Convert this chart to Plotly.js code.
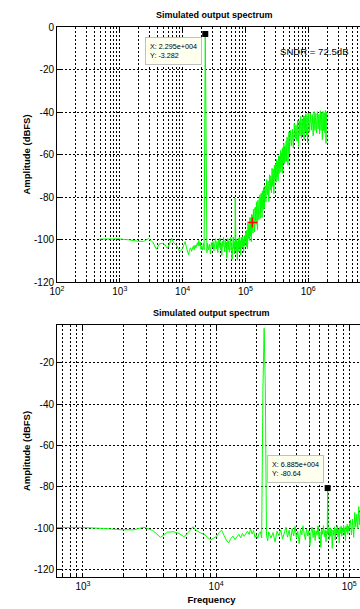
<!DOCTYPE html>
<html><head><meta charset="utf-8">
<script src="https://cdn.plot.ly/plotly-3.0.1.min.js"></script>
<style>html,body{margin:0;padding:0;overflow:hidden;background:#fff;width:360px;height:609px}#plot{width:375px;height:609px}</style>
</head><body><div id="plot"></div>
<script>
// ---- data ----
// in-band FFT bins (Hz) and amplitude (dBFS), incl. fundamental at 22.95 kHz and 3rd harmonic at 68.85 kHz
const inbandFreq = [478, 956, 1434, 1913, 2391, 2869, 3347, 3825, 4303, 4781, 5259, 5738, 6216, 6694, 7172, 7650, 8128, 8606, 9084, 9563,
  10041, 10519, 10997, 11475, 11953, 12431, 12909, 13388, 13866, 14344, 14822, 15300, 15778, 16256, 16734, 17213, 17691, 18169, 18647, 19125,
  19603, 20081, 20559, 21038, 21516, 21994, 22472, 22950, 23428, 23906, 24384,
  24863, 25819, 26775, 27731, 28688, 29644, 30600, 31556, 32513, 33469, 34425, 35381, 36338, 37294, 38250, 39206, 40163, 41119, 42075, 43031,
  43988, 44944, 45900, 46856, 47813, 48769, 49725, 50681, 51638, 52594, 53550, 54506, 55463, 56419, 57375, 58331, 59288, 60244, 61200, 62156,
  63113, 64069, 65025, 65981, 66938, 67894, 68372, 68850, 69328, 69806, 70763, 71719, 72675, 73631, 74588, 75544, 76500, 77456, 78413,
  79369, 80325, 81281, 82238, 83194, 84150, 85106, 86063, 87019, 87975, 88931, 89888, 90844, 91800, 92756, 93713, 94669, 95625, 96581, 97538,
  98494, 99450, 100406];
const inbandDb = [-99.8, -99.7, -100.2, -100.8, -100.9, -99.6, -101.2, -104.5, -102.0, -101.8, -102.6, -104.2, -102.0, -99.4, -101.3, -102.4, -103.0, -104.6, -105.8, -104.9,
  -104.2, -102.3, -101.0, -103.6, -105.9, -107.2, -105.0, -103.9, -105.6, -104.2, -103.0, -104.8, -102.6, -104.0, -102.8, -101.5, -103.1, -100.4, -102.9, -101.2,
  -104.6, -103.3, -105.0, -102.4, -101.8, -104.8, -33.0, -3.282, -32.5, -103.5, -106.2,
  -101.8, -104.9, -102.2, -106.8, -101.5, -103.7, -100.9, -105.3, -102.1, -99.6, -104.4, -101.0, -106.2, -100.3, -103.8, -99.2, -104.9, -101.6, -107.5, -100.8,
  -103.3, -98.9, -102.7, -105.8, -100.4, -103.9, -101.2, -108.6, -101.9, -99.5, -104.6, -100.7, -106.0, -101.3, -103.5, -99.0, -105.1, -101.8, -109.4, -100.6,
  -103.0, -98.8, -104.2, -100.9, -106.7, -101.4, -103.0, -80.64, -102.5, -100.2, -105.5, -99.8, -104.0, -100.6, -109.8, -101.0, -103.6, -99.4, -105.8,
  -100.1, -102.9, -98.9, -104.3, -100.5, -107.2, -99.7, -102.6, -99.0, -104.0, -100.2, -101.9, -98.6, -103.4, -99.8, -106.1, -99.1, -101.8, -98.2, -103.0,
  -99.0, -101.5, -97.8];
// out-of-band shaped noise (Hz, dBFS)
const shapedFreq = [102000, 104000, 106000, 108000, 110000, 112000, 114000, 116000, 118000, 120000, 122000, 124000, 126000, 128000, 130000, 132000, 134000, 136000, 138000, 140000,
  142000, 144000, 146000, 148000, 150000, 152000, 154000, 156000, 158000, 160000, 162000, 164000, 166000, 168000, 170000, 172000, 174000, 176000, 178000, 180000,
  182000, 184000, 186000, 188000, 190000, 192000, 194000, 196000, 198000, 200000,
  206000, 212000, 218000, 224000, 230000, 236000, 242000, 248000, 254000, 260000, 266000, 272000, 278000, 284000, 290000, 296000, 302000, 308000, 314000, 320000,
  326000, 332000, 338000, 344000, 350000, 356000, 362000, 368000, 374000, 380000, 386000, 392000, 398000, 404000, 410000, 416000, 422000, 428000, 434000, 440000,
  446000, 452000, 458000, 464000, 470000, 476000, 482000, 488000, 494000, 500000,
  520000, 540000, 560000, 580000, 600000, 620000, 640000, 660000, 680000, 700000, 720000, 740000, 760000, 780000, 800000, 820000, 840000, 860000, 880000, 900000,
  920000, 940000, 960000, 980000, 1000000,
  1040000, 1080000, 1120000, 1160000, 1200000, 1240000, 1280000, 1320000, 1360000, 1400000, 1440000, 1480000, 1520000, 1560000, 1600000, 1640000, 1680000, 1720000,
  1760000, 1800000, 1840000, 1880000, 1920000, 1960000];
const shapedDb = [-96.0, -103.3, -95.6, -104.5, -92.5, -99.5, -93.3, -100.5, -89.6, -98.5, -89.9, -101.1, -88.1, -95.2, -88.6, -97.0, -85.8, -94.3, -87.1, -96.5,
  -85.0, -91.3, -84.7, -93.0, -82.3, -90.8, -84.3, -95.6, -81.5, -90.1, -82.1, -90.6, -80.7, -87.5, -79.0, -90.0, -80.2, -87.2, -78.2, -85.2,
  -79.2, -89.6, -77.2, -85.1, -77.1, -86.0, -75.6, -84.7, -76.3, -85.4,
  -74.6, -82.4, -71.8, -78.9, -72.4, -82.2, -69.5, -76.8, -70.0, -78.0, -66.5, -75.0, -66.9, -78.4, -65.0, -71.6, -64.3, -73.0, -62.4, -70.4,
  -63.2, -72.4, -60.6, -69.1, -60.7, -66.7, -58.1, -68.4, -59.3, -65.8, -57.2, -68.8, -56.8, -63.4, -54.8, -64.3, -56.1, -63.3, -53.7, -60.2,
  -53.7, -63.3, -51.8, -60.0, -52.6, -65.0, -51.0, -59.1, -49.4, -59.6,
  -48.7, -55.9, -48.0, -57.0, -45.4, -52.6, -46.0, -53.6, -43.8, -56.1, -44.1, -51.3, -42.1, -52.4, -43.4, -50.7, -41.8, -53.1, -42.0, -49.3,
  -40.8, -50.8, -41.9, -54.6, -40.5,
  -49.6, -40.4, -48.6, -41.2, -51.2, -39.8, -48.7, -40.6, -49.8, -39.8, -47.9, -41.1, -50.4, -39.4, -48.7, -40.2, -53.0, -39.7,
  -48.8, -40.4, -49.9, -39.2, -54.8, -39.9];
// data tips, band-edge marker, texts
const tipFreq = [22950, 68850];
const tipDb = [-3.282, -80.64];
const tipLabels = ['X: 2.295e+004<br>Y: -3.282', 'X: 6.885e+004<br>Y: -80.64'];
const edgeFreq = [129000];
const edgeDb = [-92];
const sndrLabel = 'SNDR = 72.5dB';
const plotTitle = 'Simulated output spectrum';
const yLabel = 'Amplitude (dBFS)';
const xLabel = 'Frequency';
const decadeTicks = [100, 1000, 10000, 100000, 1000000, 10000000];
const decadeLabels = ['10<sup>2</sup>', '10<sup>3</sup>', '10<sup>4</sup>', '10<sup>5</sup>', '10<sup>6</sup>', '10<sup>7</sup>'];
const minorTicks = [200, 300, 400, 500, 600, 700, 800, 900, 2000, 3000, 4000, 5000, 6000, 7000, 8000, 9000,
  20000, 30000, 40000, 50000, 60000, 70000, 80000, 90000, 200000, 300000, 400000, 500000, 600000, 700000, 800000, 900000,
  2000000, 3000000, 4000000, 5000000, 6000000, 7000000, 8000000, 9000000];
const yTicksTop = [0, -20, -40, -60, -80, -100, -120];
const yTicksBottom = [-20, -40, -60, -80, -100, -120];

// ---- drawing ----
const freq = inbandFreq.concat(shapedFreq);
const db = inbandDb.concat(shapedDb);
const green = '#00ff00';
const tickFont = {family: 'Liberation Sans Narrow, Arial Narrow, Liberation Sans, Arial, sans-serif', size: 10, color: '#000'};
const boldFont = {family: 'Liberation Sans, Arial, sans-serif', size: 9.5, color: '#000'};
const gridDash = '2px,2px';

function xAxis(domain, range, anchor, title) {
  const a = {
    type: 'log', domain: domain, range: range, anchor: anchor,
    tickmode: 'array', tickvals: decadeTicks, ticktext: decadeLabels,
    ticks: 'inside', ticklen: 4, tickcolor: '#000', tickfont: tickFont,
    showline: true, linecolor: '#000', linewidth: 1, mirror: 'ticks',
    showgrid: true, gridcolor: '#000', gridwidth: 1, griddash: gridDash, zeroline: false,
    minor: {tickmode: 'array', tickvals: minorTicks, ticks: 'inside', ticklen: 2, tickcolor: '#000',
            showgrid: true, gridcolor: '#000', gridwidth: 1, griddash: gridDash}
  };
  if (title) a.title = {text: '<b>' + title + '</b>', font: boldFont, standoff: 5};
  return a;
}
function yAxis(domain, range, anchor, ticks) {
  return {
    domain: domain, range: range, anchor: anchor,
    tickmode: 'array', tickvals: ticks, ticktext: ticks.map(v => String(v)),
    ticks: 'inside', ticklen: 4, tickcolor: '#000', tickfont: tickFont,
    showline: true, linecolor: '#000', linewidth: 1, mirror: 'ticks',
    showgrid: true, gridcolor: '#000', gridwidth: 1, griddash: gridDash, zeroline: false,
    title: {text: '<b>' + yLabel + '</b>', font: boldFont, standoff: 1}
  };
}

const traces = [
  {x: freq, y: db, xaxis: 'x', yaxis: 'y', mode: 'lines', line: {color: green, width: 1}},
  {x: freq, y: db, xaxis: 'x2', yaxis: 'y2', mode: 'lines', line: {color: green, width: 1}},
  {x: [tipFreq[0]], y: [tipDb[0]], xaxis: 'x', yaxis: 'y', mode: 'markers', marker: {symbol: 'square', size: 6, color: '#000'}},
  {x: [tipFreq[1]], y: [tipDb[1]], xaxis: 'x2', yaxis: 'y2', mode: 'markers', marker: {symbol: 'square', size: 6, color: '#000'}},
  {x: edgeFreq, y: edgeDb, xaxis: 'x', yaxis: 'y', mode: 'markers', marker: {symbol: 'cross-thin', size: 7, line: {color: '#ff0000', width: 1.5}}},
  {x: edgeFreq, y: edgeDb, xaxis: 'x2', yaxis: 'y2', mode: 'markers', marker: {symbol: 'cross-thin', size: 7, line: {color: '#ff0000', width: 1.5}}}
];

const tipFont = {family: 'Liberation Sans, Arial, sans-serif', size: 7.2, color: '#000'};
const layout = {
  width: 375, height: 609,
  margin: {l: 57, r: 4, t: 27, b: 32},
  paper_bgcolor: '#fff', plot_bgcolor: '#fff', showlegend: false,
  xaxis: xAxis([0, 1], [2, 7], 'y', null),
  yaxis: yAxis([0.53636, 1], [-120, 0], 'x', yTicksTop),
  xaxis2: xAxis([0, 0.98408], [2.805, 5.126], 'y2', xLabel),
  yaxis2: yAxis([0, 0.45818], [-123.7, -1.7], 'x2', yTicksBottom),
  annotations: [
    {xref: 'x domain', yref: 'y domain', x: 0.5, y: 1.047, text: '<b>' + plotTitle + '</b>', showarrow: false,
     xanchor: 'center', yanchor: 'middle', font: {family: 'Liberation Sans, Arial, sans-serif', size: 9, color: '#000'}},
    {xref: 'x2 domain', yref: 'y2 domain', x: 0.5, y: 1.0476, text: '<b>' + plotTitle + '</b>', showarrow: false,
     xanchor: 'center', yanchor: 'middle', font: {family: 'Liberation Sans, Arial, sans-serif', size: 9, color: '#000'}},
    {xref: 'x', yref: 'y', x: Math.log10(tipFreq[0]), y: tipDb[0], text: tipLabels[0], showarrow: false,
     xanchor: 'right', yanchor: 'top', xshift: -3, yshift: -3, align: 'left',
     bgcolor: '#ffffee', bordercolor: '#c0c0c0', borderwidth: 1, borderpad: 4, font: tipFont},
    {xref: 'x2', yref: 'y2', x: Math.log10(tipFreq[1]), y: tipDb[1], text: tipLabels[1], showarrow: false,
     xanchor: 'right', yanchor: 'bottom', xshift: -4, yshift: 5, align: 'left',
     bgcolor: '#ffffee', bordercolor: '#c0c0c0', borderwidth: 1, borderpad: 4, font: tipFont},
    {xref: 'x domain', yref: 'y domain', x: 0.705, y: 0.902, text: sndrLabel, showarrow: false,
     xanchor: 'left', yanchor: 'middle', font: {family: 'Liberation Sans Narrow, Arial Narrow, Liberation Sans, sans-serif', size: 9.6, color: '#000'}}
  ]
};

Plotly.newPlot('plot', traces, layout, {staticPlot: true, displayModeBar: false});
</script></body></html>
